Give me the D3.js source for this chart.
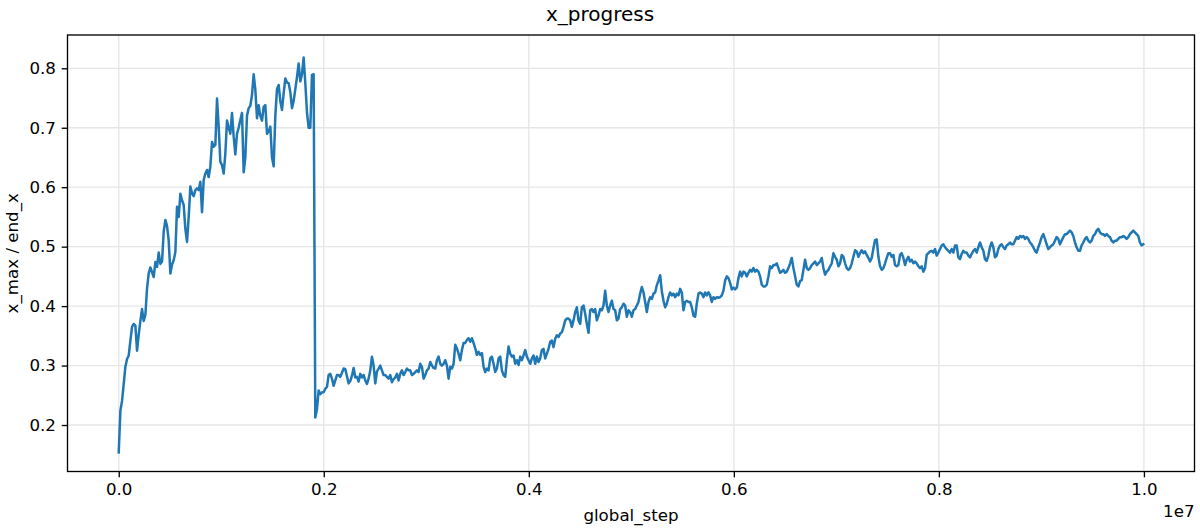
<!DOCTYPE html>
<html>
<head>
<meta charset="utf-8">
<script src="https://cdn.jsdelivr.net/npm/d3@7/dist/d3.min.js"></script>
<style>
  html, body { margin: 0; padding: 0; background: #fff; }
  svg { display: block; font-family: "DejaVu Sans", sans-serif; }
</style>
</head>
<body>
<svg id="chart" width="1200" height="528"></svg>
<script>
// ---------------- data ----------------
const title = "x_progress";
const xLabel = "global_step";
const yLabel = "x_max / end_x";
const xOffsetLabel = "1e7";
const logInterval = 16250; // global steps between logged points
const xTicks = [0, 2e6, 4e6, 6e6, 8e6, 1e7];
const xTickLabels = ["0.0", "0.2", "0.4", "0.6", "0.8", "1.0"];
const yTicks = [0.2, 0.3, 0.4, 0.5, 0.6, 0.7, 0.8];
const yTickLabels = ["0.2", "0.3", "0.4", "0.5", "0.6", "0.7", "0.8"];

const valuesPart1 = [
  0.154, 0.224, 0.241, 0.269, 0.298, 0.311, 0.317, 0.342, 0.365, 0.370,
  0.367, 0.325, 0.352, 0.375, 0.395, 0.375, 0.385, 0.430, 0.455, 0.465,
  0.457, 0.449, 0.474, 0.466, 0.490, 0.471, 0.475, 0.525, 0.545, 0.535,
  0.510, 0.455, 0.470, 0.477, 0.491, 0.567, 0.550, 0.589, 0.578, 0.570,
  0.530, 0.508, 0.550, 0.601, 0.590, 0.585, 0.595, 0.598, 0.595, 0.609,
  0.558, 0.612, 0.623, 0.629, 0.617
];
const valuesPart2 = [
  0.635, 0.676, 0.668, 0.671, 0.749, 0.702, 0.643, 0.637, 0.623, 0.657,
  0.712, 0.700, 0.690, 0.725, 0.685, 0.655, 0.690, 0.700, 0.713, 0.725,
  0.625, 0.650, 0.720, 0.733, 0.737, 0.755, 0.790, 0.764, 0.716, 0.738,
  0.720, 0.712, 0.735, 0.738, 0.690, 0.694, 0.702, 0.650, 0.635, 0.720,
  0.765, 0.772, 0.745, 0.730, 0.758, 0.783, 0.776, 0.775, 0.760, 0.733,
  0.745, 0.765, 0.785, 0.808, 0.778, 0.790, 0.818, 0.775, 0.726, 0.700,
  0.700, 0.789, 0.790
];
const valuesPart3 = [
  0.2125, 0.227, 0.258, 0.252, 0.255, 0.255, 0.261, 0.264, 0.284, 0.286,
  0.278, 0.266, 0.275, 0.284, 0.284, 0.281, 0.288, 0.295, 0.294, 0.282,
  0.270, 0.274, 0.283, 0.296, 0.280, 0.281, 0.273, 0.286, 0.280, 0.284,
  0.275, 0.269, 0.278, 0.292, 0.315, 0.300, 0.270, 0.290, 0.295, 0.300,
  0.292, 0.284, 0.284, 0.281, 0.278, 0.284, 0.272, 0.277, 0.280, 0.286,
  0.275, 0.286, 0.292, 0.284, 0.289, 0.295, 0.292, 0.292, 0.284, 0.286,
  0.289, 0.292, 0.289, 0.303, 0.298, 0.278, 0.284, 0.292, 0.295, 0.306,
  0.300, 0.296, 0.295, 0.309, 0.315, 0.303, 0.300, 0.303, 0.309, 0.300,
  0.278, 0.298, 0.295, 0.303, 0.335, 0.329, 0.320, 0.309, 0.326, 0.338,
  0.338, 0.343, 0.346, 0.340, 0.346, 0.338, 0.329, 0.318, 0.323, 0.318,
  0.321, 0.298, 0.289, 0.295, 0.292, 0.312, 0.315, 0.303, 0.289, 0.295,
  0.312, 0.315, 0.292, 0.284, 0.281, 0.309, 0.332, 0.320
];
const valuesPart4 = [
  0.315, 0.317, 0.303, 0.309, 0.301, 0.315, 0.309, 0.317, 0.326, 0.315,
  0.309, 0.303, 0.312, 0.317, 0.303, 0.315, 0.306, 0.312, 0.326, 0.328,
  0.312, 0.320, 0.328, 0.340, 0.342, 0.331, 0.345, 0.351, 0.348, 0.354,
  0.356, 0.365, 0.376, 0.379, 0.379, 0.376, 0.365, 0.376, 0.390, 0.398,
  0.376, 0.370, 0.398, 0.401, 0.387, 0.370, 0.355, 0.393, 0.395, 0.390,
  0.395, 0.376, 0.384, 0.395, 0.393, 0.401, 0.426, 0.401, 0.390, 0.401,
  0.409, 0.395, 0.393, 0.376, 0.379, 0.395, 0.398, 0.404, 0.401, 0.382,
  0.393, 0.390, 0.382, 0.393, 0.395, 0.401, 0.407, 0.421, 0.432, 0.423,
  0.407, 0.390, 0.407, 0.415, 0.412, 0.421, 0.423, 0.435, 0.443, 0.452,
  0.425, 0.409, 0.398, 0.404, 0.415, 0.423, 0.418, 0.421, 0.415, 0.421,
  0.418, 0.429, 0.423, 0.393, 0.407, 0.409, 0.407, 0.407, 0.398, 0.384,
  0.382, 0.404, 0.421, 0.423, 0.421, 0.415, 0.423, 0.418, 0.423, 0.418,
  0.407, 0.415, 0.412, 0.415, 0.414, 0.415, 0.418, 0.426, 0.443
];
const valuesPart5 = [
  0.450, 0.447, 0.439, 0.428, 0.431, 0.428, 0.431, 0.447, 0.458, 0.450,
  0.458, 0.456, 0.450, 0.456, 0.461, 0.458, 0.464, 0.458, 0.461, 0.458,
  0.450, 0.436, 0.433, 0.433, 0.436, 0.450, 0.467, 0.464, 0.469, 0.469,
  0.472, 0.464, 0.456, 0.458, 0.461, 0.456, 0.458, 0.464, 0.472, 0.481,
  0.464, 0.450, 0.436, 0.433, 0.442, 0.444, 0.461, 0.478, 0.464, 0.461,
  0.464, 0.469, 0.472, 0.475, 0.469, 0.472, 0.475, 0.481, 0.464, 0.453,
  0.458, 0.461, 0.467, 0.472, 0.489, 0.483, 0.478, 0.467, 0.472, 0.486,
  0.483, 0.472, 0.464, 0.461, 0.464, 0.472, 0.483, 0.494, 0.492, 0.483,
  0.489, 0.494, 0.489, 0.492, 0.486, 0.481, 0.475, 0.481, 0.497, 0.511,
  0.512, 0.483, 0.467, 0.461, 0.464, 0.472, 0.481, 0.489, 0.489, 0.483,
  0.486, 0.469, 0.467, 0.469, 0.486, 0.489, 0.481, 0.469, 0.478, 0.483,
  0.475, 0.478, 0.472, 0.475, 0.472, 0.467, 0.464, 0.467, 0.458, 0.464,
  0.486, 0.489, 0.492
];
const valuesPart6 = [
  0.493, 0.490, 0.496, 0.485, 0.490, 0.496, 0.502, 0.504, 0.499, 0.496,
  0.493, 0.490, 0.496, 0.490, 0.502, 0.502, 0.482, 0.479, 0.488, 0.493,
  0.490, 0.490, 0.485, 0.482, 0.488, 0.493, 0.496, 0.490, 0.499, 0.507,
  0.499, 0.493, 0.479, 0.476, 0.485, 0.499, 0.507, 0.499, 0.482, 0.485,
  0.496, 0.502, 0.504, 0.499, 0.496, 0.502, 0.504, 0.507, 0.504, 0.504,
  0.510, 0.516, 0.513, 0.518, 0.516, 0.518, 0.513, 0.516, 0.513, 0.507,
  0.504, 0.499, 0.493, 0.490, 0.499, 0.507, 0.516, 0.521, 0.513, 0.504,
  0.496, 0.499, 0.502, 0.504, 0.510, 0.516, 0.513, 0.504, 0.510, 0.516,
  0.521, 0.521, 0.524, 0.527, 0.524, 0.518, 0.507, 0.499, 0.493, 0.493,
  0.502, 0.507, 0.513, 0.516, 0.510, 0.507, 0.510, 0.518, 0.521, 0.527,
  0.530, 0.524, 0.521, 0.521, 0.518, 0.521, 0.518, 0.516, 0.510, 0.507,
  0.510, 0.510, 0.513, 0.516, 0.516, 0.518, 0.516, 0.513, 0.516, 0.521,
  0.524, 0.527, 0.524, 0.521, 0.518, 0.507, 0.502, 0.504
];

const values = [].concat(valuesPart1, valuesPart2, valuesPart3, valuesPart4, valuesPart5, valuesPart6);
const steps = values.map((_, i) => i * logInterval);
const points = steps.map((s, i) => ({ step: s, value: values[i] }));

// ---------------- layout ----------------
const W = 1200, H = 528;
const m = { left: 67.5, right: 1194.5, top: 35, bottom: 471.5 };
const svg = d3.select("#chart");

const xMin = d3.min(steps), xMax = d3.max(steps);
const xPad = (xMax - xMin) * 0.05;
const x = d3.scaleLinear().domain([xMin - xPad, xMax + xPad]).range([m.left, m.right]);
const y = d3.scaleLinear().domain([0.1218, 0.856]).range([m.bottom, m.top]);

const gridColor = "#e6e6e6";
const tickLen = 5.8, tickPad = 5.8;
const fontTick = 16.67;

// grid
const grid = svg.append("g");
grid.selectAll("line.gx").data(xTicks).join("line")
  .attr("x1", d => x(d)).attr("x2", d => x(d))
  .attr("y1", m.top).attr("y2", m.bottom)
  .attr("stroke", gridColor).attr("stroke-width", 1.33);
grid.selectAll("line.gy").data(yTicks).join("line")
  .attr("y1", d => y(d)).attr("y2", d => y(d))
  .attr("x1", m.left).attr("x2", m.right)
  .attr("stroke", gridColor).attr("stroke-width", 1.33);

// line
const line = d3.line().x(d => x(d.step)).y(d => y(d.value));
svg.append("g").attr("clip-path", null)
  .append("path").datum(points)
  .attr("d", line)
  .attr("fill", "none")
  .attr("stroke", "#1f77b4")
  .attr("stroke-width", 2.5)
  .attr("stroke-linejoin", "round")
  .attr("stroke-linecap", "square");

// axes via d3
const xAxis = d3.axisBottom(x).tickValues(xTicks)
  .tickFormat((d, i) => xTickLabels[i]).tickSize(tickLen).tickPadding(tickPad);
const gx = svg.append("g").attr("transform", `translate(0,${m.bottom})`).call(xAxis);
gx.select(".domain").remove();
gx.selectAll(".tick line").attr("stroke", "#000").attr("stroke-width", 1.33);
gx.selectAll(".tick text").attr("fill", "#000")
  .style("font-size", fontTick + "px").style("font-family", "DejaVu Sans");

const yAxis = d3.axisLeft(y).tickValues(yTicks)
  .tickFormat((d, i) => yTickLabels[i]).tickSize(tickLen).tickPadding(tickPad);
const gy = svg.append("g").attr("transform", `translate(${m.left},0)`).call(yAxis);
gy.select(".domain").remove();
gy.selectAll(".tick line").attr("stroke", "#000").attr("stroke-width", 1.33);
gy.selectAll(".tick text").attr("fill", "#000")
  .style("font-size", fontTick + "px").style("font-family", "DejaVu Sans");

// spines
svg.append("rect")
  .attr("x", m.left).attr("y", m.top)
  .attr("width", m.right - m.left).attr("height", m.bottom - m.top)
  .attr("fill", "none").attr("stroke", "#000").attr("stroke-width", 1.33);

// texts
svg.append("text").attr("x", W / 2).attr("y", 20.5)
  .attr("text-anchor", "middle").style("font-size", "20px").text(title);
svg.append("text").attr("x", (m.left + m.right) / 2).attr("y", 520.5)
  .attr("text-anchor", "middle").style("font-size", fontTick + "px").text(xLabel);
svg.append("text").attr("transform", `translate(18,${(m.top + m.bottom) / 2}) rotate(-90)`)
  .attr("text-anchor", "middle").style("font-size", fontTick + "px").text(yLabel);
svg.append("text").attr("x", m.right).attr("y", 517.3)
  .attr("text-anchor", "end").style("font-size", fontTick + "px").text(xOffsetLabel);
</script>
</body>
</html>
